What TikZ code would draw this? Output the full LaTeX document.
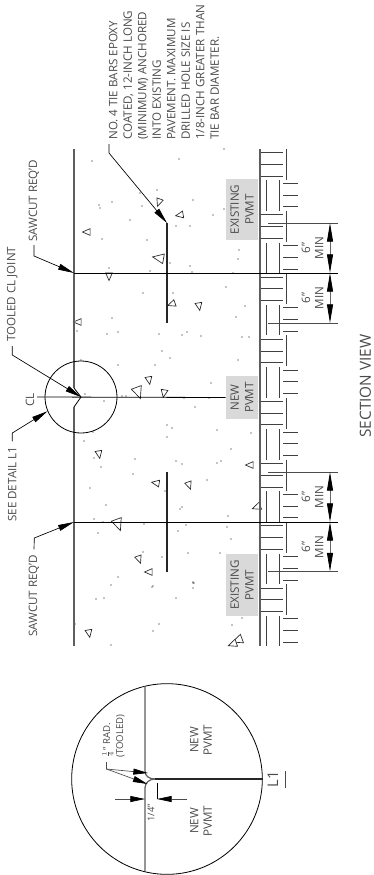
\documentclass[tikz,border=0pt]{standalone}
\usepackage{fontspec}
\setmainfont{Open Sans}
\usetikzlibrary{arrows.meta, positioning}
\definecolor{ink}{HTML}{4A4A4A}
\definecolor{slab}{HTML}{5E5E5E}
\definecolor{tag}{HTML}{D9D9D9}
\tikzstyle{arrow} = [-{Triangle[length=12pt,width=4.5pt]}, line width=.5pt, black]
\tikzstyle{dimarrow} = [{Triangle[length=14pt,width=4.5pt,color=black]}-{Triangle[length=14pt,width=4.5pt,color=black]}, line width=.6pt, black!60]
\tikzstyle{shortarrow} = [-{Triangle[length=11pt,width=4.5pt,color=black]}, line width=.5pt, black!70]
\tikzstyle{note} = [rotate=90, anchor=west, align=left, inner sep=0pt, text=ink, font=\fontsize{8.7}{10.9}\selectfont]
\tikzstyle{dimtext} = [rotate=90, align=center, inner sep=0pt, text=ink, font=\fontsize{8.7}{10}\selectfont]
\tikzstyle{pvmt} = [rotate=90, fill=tag, align=center, inner sep=0pt, minimum height=24pt, text=ink, font=\fontsize{8.7}{11}\selectfont]
\tikzstyle{slabline} = [line width=.9pt, slab]
\tikzstyle{joint} = [line width=.6pt, black]
\tikzstyle{tiebar} = [line width=1.3pt, black!85]
\tikzstyle{hatch} = [line width=.7pt, black!75]
\newcommand\stone[4]{\draw [line width=.5pt, black!85, fill=white, shift={(#1,#2)}, rotate=#3, scale=#4] (1,0) -- (-.7,.75) -- (-.7,-.75) -- cycle;}

\begin{document}
\begin{tikzpicture}[x=.75pt, y=-.75pt]
\useasboundingbox (0,0) rectangle (374,875);
%----------------------------------------------------------------------------
% Aggregate in the slab
\foreach \x/\y in {92/161,179/159,224/149,99/205,112/202,142/206,157/190,193/200,140/193,130/220,176/226,190/226,213/215,224/209,102/239,147/240,239/250,238/259,170/263,190/266,192/272,150/271,109/268,233/273,143/293,173/293,226/287,100/208,
112/318,107/334,118/332,159/334,182/335,187/332,201/336,236/317,245/306,242/337,249/337,77/331,162/351,170/358,238/360,81/360,155/365,118/365,211/383,122/396,126/396,104/401,184/398,209/398,195/407,85/394,167/425,172/428,167/437,217/430,251/433,93/432,84/441,231/449,94/458,101/467,135/459,176/461,182/464,217/463,221/461,133/474,207/480,90/488,165/491,106/505,182/507,180/509,228/516,94/519,103/522,144/524,227/527,186/525,178/531,98/533,231/539,188/553,220/553,162/557,143/552,118/577,111/585,153/586,193/583,194/583,
96/599,104/598,176/598,193/582,193/588,152/587,159/624,153/631,242/618,232/625,111/645,75/624}
	\fill [black] (\x,\y) circle (.7);
\foreach \x/\y/\a/\s in {159/202/250/4.5,180/215/190/4.5,87/232/180/4.5,159/258/170/6.5,109/276/270/4.5,172/304/200/4.5,199/306/280/4.5,78/322/180/4.5,138/392/290/7,149/380/280/4.5,164/393/260/4.5,99/454/280/4.5,250/465/180/4.5,156/483/170/4.5,189/485/290/4.5,257/507/200/5,118/524/290/7,139/559/290/4.5,149/572/180/4.5,89/633/280/4.5,238/640/200/6,233/644/200/5}{
	\stone{\x}{\y}{\a}{\s}
}

%----------------------------------------------------------------------------
% Subgrade pattern
\foreach \k in {-3,...,4}{
	\pgfmathsetmacro\ya{339.3+62.2*\k}
	\pgfmathsetmacro\yb{370+62.2*\k}
	\foreach \d in {0,11.7,23.4}{
		\draw [hatch] (260,\ya+\d) -- (283,\ya+\d);
		\draw [hatch] (283,\yb+\d) -- (298,\yb+\d);
	}
	\draw [hatch] (286.7,\ya-4) -- (286.7,\ya+27);
	\ifnum\k<4
		\draw [hatch] (266.7,\yb-3) -- (266.7,\yb+27.5);
		\draw [hatch] (279,\yb-3) -- (279,\yb+27.5);
	\else
		\draw [hatch] (266.7,\yb-3) -- (266.7,645.5);
		\draw [hatch] (279,\yb-3) -- (279,645.5);
	\fi
}

%----------------------------------------------------------------------------
% Section slab
\coordinate (topA) at (74,149);
\coordinate (sawTopA) at (74,273);
\coordinate (sawTopB) at (74,522);
\coordinate (topB) at (74,646);
\coordinate (crown) at (81,397);
\draw [slabline] (topA) -- (74,388);
\draw [joint] (74,388) -- (crown) -- (74,407);
\draw [slabline] (74,407) -- (topB);
\draw [slabline] (260,149) -- (260,646);
\draw [tiebar] (167,223) -- (167,323);
\draw [tiebar] (167,472) -- (167,572);
\node (sectionCircle) [draw, line width=.6pt, circle, minimum size=54pt, inner sep=0pt] at (81,397) {};

% Gray tags
\node (existingA) [pvmt, minimum width=45.75pt] at (242,209.5) {EXISTING\\PVMT};
\node (newTag) [pvmt, minimum width=32pt] at (242,397.5) {NEW\\PVMT};
\node (existingB) [pvmt, minimum width=46pt] at (242,585) {EXISTING\\PVMT};

%----------------------------------------------------------------------------
% Joint lines and dimensions
\coordinate (clStart) at (37,397);
\coordinate (dimA) at (338,223);
\coordinate (dimB) at (338,273);
\coordinate (dimC) at (338,323);
\coordinate (dimD) at (338,472);
\coordinate (dimE) at (338,522);
\coordinate (dimF) at (338,571.5);
\draw [joint] (clStart) -- (newTag.north);
\draw [joint] (sawTopA) -- (dimB);
\draw [joint] (sawTopB) -- (dimE);
\draw [line width=.5pt, black!70] (268,223) -- (dimA);
\draw [line width=.5pt, black!70] (268,323) -- (dimC);
\draw [line width=.5pt, black!70] (268,472) -- (dimD);
\draw [line width=.5pt, black!70] (268,571.5) -- (dimF);
\draw [dimarrow] (330,223) -- (330,273);
\draw [dimarrow] (330,273) -- (330,323);
\draw [dimarrow] (330,472) -- (330,522);
\draw [dimarrow] (330,522) -- (330,571.5);
\foreach \name/\y in {dimTextA/248,dimTextB/298,dimTextC/497,dimTextD/547}{
	\node (\name) [dimtext] at (312.5,\y) {6"\\MIN};
}

%----------------------------------------------------------------------------
% Notes and leaders
\node (tieNote) [note] at (164,140) {NO. 4 TIE BARS EPOXY\\COATED, 12-INCH LONG\\(MINIMUM) ANCHORED\\INTO EXISTING\\PAVEMENT. MAXIMUM\\DRILLED HOLE SIZE IS\\1/8-INCH GREATER THAN\\TIE BAR DIAMETER.};
\node (sawNoteA) [note] at (34,242) {SAWCUT REQ'D};
\node (tooledNote) [note] at (12.3,342) {TOOLED CL JOINT};
\node (clNote) [dimtext] at (30,400) {CL};
\node (detailNote) [note] at (12.3,522) {SEE DETAIL L1};
\node (sawNoteB) [note] at (34,637) {SAWCUT REQ'D};
\node (viewTitle) [rotate=90, inner sep=0pt, text=ink, font=\fontsize{11.5}{12}\selectfont] at (365.5,386) {SECTION VIEW};

\coordinate (tieEnd) at (167,223);
\coordinate (tieStart) at (109,144);
\draw [arrow] (tieStart) -- ++(0,9) -- (tieEnd);
\draw [arrow] (sawNoteA.west) ++(0,3) -- ++(0,11) -- (sawTopA);
\draw [arrow] (tooledNote.west) ++(0,4) -- ++(0,9) -- (crown);
\draw [arrow] (detailNote.east) ++(0,-5) -- (12.3,433) -- (sectionCircle.-157);
\draw [arrow] (sawNoteB.east) ++(0,-5) -- (34.3,538) -- (sawTopB);

%----------------------------------------------------------------------------
% Detail L1
\node (detailCircle) [draw, line width=.6pt, circle, minimum size=143pt, inner sep=0pt] at (167,779) {};
\coordinate (jointTip) at (155,779);
\coordinate (jointEnd) at (262.5,779);
\draw [slabline] (145,686) -- (145,771) .. controls (145,776) and (149,779) .. (jointTip);
\draw [slabline] (145,871) -- (145,788) .. controls (145,783) and (149,779) .. (jointTip);
\draw [line width=1pt, black!85] (jointTip) -- (jointEnd);

\node (newUpper) [dimtext] at (201,740) {NEW\\PVMT};
\node (newLower) [dimtext] at (201,821) {NEW\\PVMT};
\node (radNote) [note, font=\fontsize{7.2}{9.7}\selectfont] at (113.5,758) {$\frac{1}{4}$" RAD.\\(TOOLED)};
\node (quarterNote) [dimtext, font=\fontsize{7}{8}\selectfont] at (151,813) {1/4"};
\node (detailTitle) [rotate=90, inner sep=0pt, text=ink, font=\fontsize{11}{12}\selectfont] at (273,779.5) {L1};
\draw [line width=.6pt, ink] (285,771) -- (285,788);

\coordinate (radStart) at (106.5,762);
\coordinate (radFork) at (106.5,769);
\draw [shortarrow] (radStart) -- (radFork) -- (148,773);
\draw [shortarrow] (radFork) -- (147.5,784);
\coordinate (quarterLeft) at (115,799);
\coordinate (quarterRight) at (187,799);
\draw [shortarrow] (quarterLeft) -- (145,799);
\draw [shortarrow] (quarterRight) -- (157,799);
\draw [line width=.5pt, black] (157,783) -- (157,799);

\end{tikzpicture}
\end{document}
